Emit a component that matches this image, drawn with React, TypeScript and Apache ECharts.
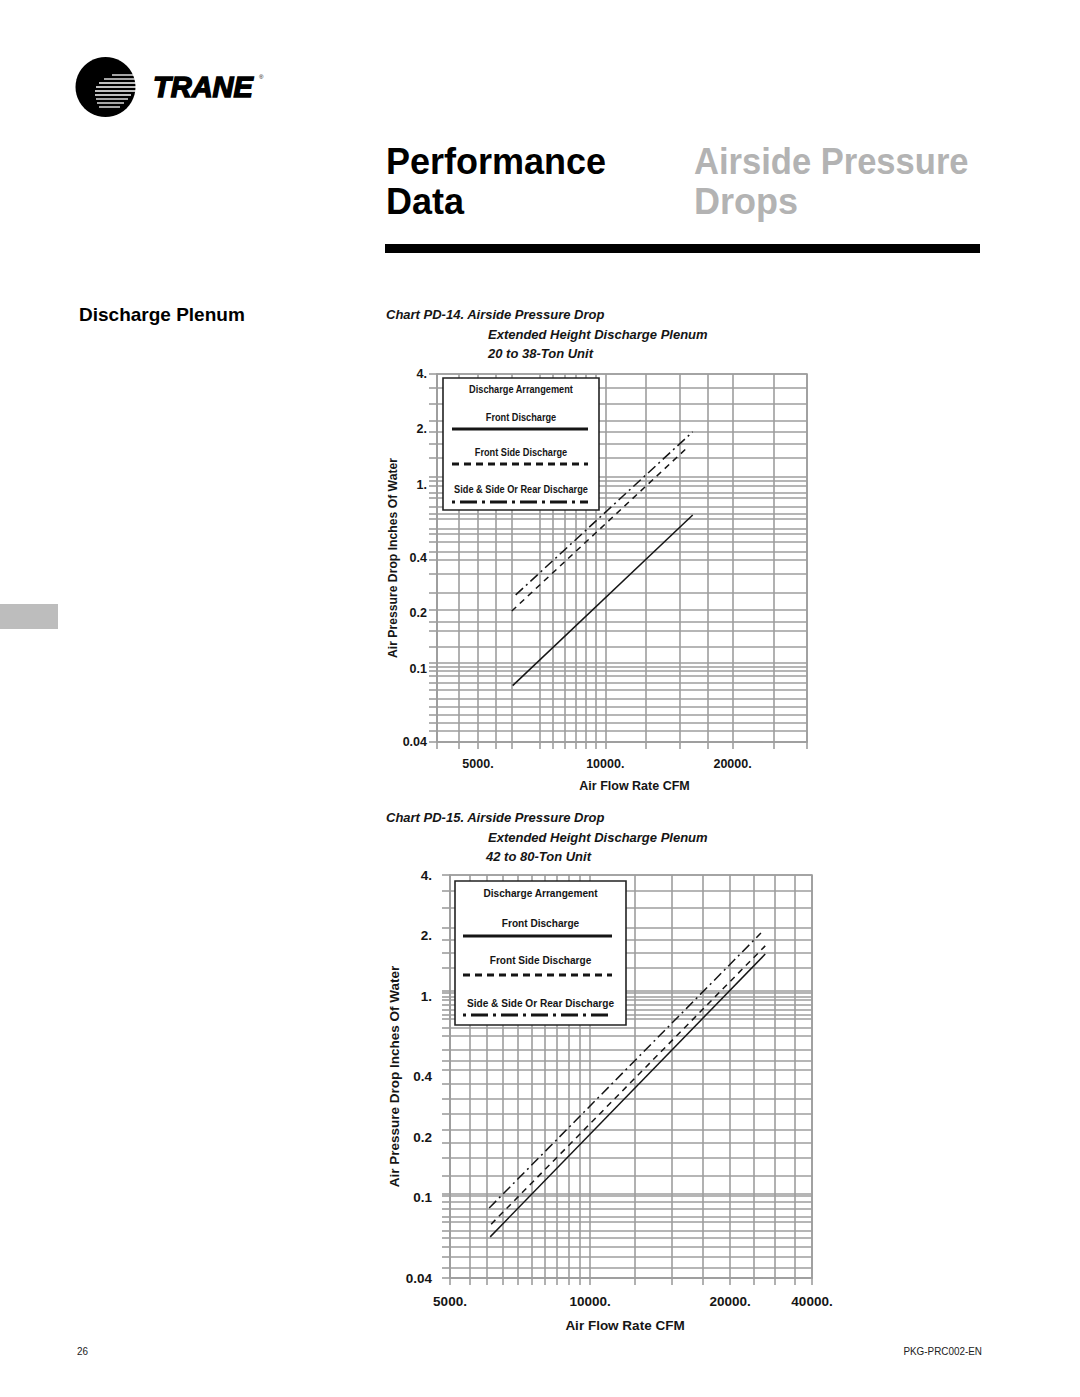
import React, { useEffect, useRef } from "react";
import * as echarts from "echarts";

// ---------------- data ----------------
const SERIES_NAMES = ["Front Discharge", "Front Side Discharge", "Side & Side Or Rear Discharge"];

// Chart PD-14 (20 to 38-Ton Unit) : end points of each line, [CFM], [in. of water]
const PD14_CFM_FRONT = [6040, 16100];
const PD14_DP_FRONT = [0.081, 0.685];
const PD14_CFM_FRONTSIDE = [6010, 15600];
const PD14_DP_FRONTSIDE = [0.206, 1.585];
const PD14_CFM_SIDE = [6140, 16100];
const PD14_DP_SIDE = [0.252, 1.94];

// Chart PD-15 (42 to 80-Ton Unit)
const PD15_CFM_FRONT = [6100, 23800];
const PD15_DP_FRONT = [0.064, 1.62];
const PD15_CFM_FRONTSIDE = [6130, 23800];
const PD15_DP_FRONTSIDE = [0.074, 1.78];
const PD15_CFM_SIDE = [6070, 23300];
const PD15_DP_SIDE = [0.089, 2.06];

// axis ranges
const PD14_X_RANGE = [4000, 30000];
const PD15_X_RANGE = [5000, 30000];
const Y_RANGE = [0.04, 4];

// tick labels
const Y_TICK_VALUES = [0.04, 0.1, 0.2, 0.4, 1, 2, 4];
const Y_TICK_LABELS = ["0.04", "0.1", "0.2", "0.4", "1.", "2.", "4."];
const PD14_X_TICK_VALUES = [5000, 10000, 20000];
const PD14_X_TICK_LABELS = ["5000.", "10000.", "20000."];
const PD15_X_TICK_VALUES = [5000, 10000, 20000, 30000];
const PD15_X_TICK_LABELS = ["5000.", "10000.", "20000.", "40000."];

// grid lines
const PD14_X_GRID = [4000, 4500, 5000, 5500, 6000, 7000, 7500, 8000, 8500, 9000, 9500, 10000, 12500, 15000, 17500, 20000, 25000, 30000];
const PD15_X_GRID = [5000, 5500, 6000, 6500, 7000, 7500, 8000, 8500, 9000, 9500, 10000, 12500, 15000, 17500, 20000, 22500, 25000, 27500, 30000];
const PD14_Y_GRID = [0.04, 0.046, 0.051, 0.056, 0.062, 0.069, 0.077, 0.084, 0.092, 0.097, 0.103, 0.108, 0.131, 0.16, 0.18, 0.21, 0.26, 0.33, 0.39, 0.43, 0.49, 0.54, 0.58, 0.65, 0.7, 0.76, 0.85, 0.91, 0.99, 1.05, 1.1, 1.4, 1.67, 1.93, 2.22, 2.75, 3.36, 4];
const PD15_Y_GRID = [0.04, 0.045, 0.051, 0.057, 0.063, 0.069, 0.076, 0.081, 0.088, 0.096, 0.102, 0.105, 0.129, 0.158, 0.187, 0.217, 0.26, 0.31, 0.37, 0.43, 0.48, 0.54, 0.64, 0.7, 0.77, 0.81, 0.86, 0.91, 0.96, 1.0, 1.04, 1.07, 1.38, 1.64, 1.9, 2.18, 2.74, 3.33, 4];

// ---------------- helpers ----------------
const FONT = "'Liberation Sans', Arial, Helvetica, sans-serif";
const GRAY = "#9e9e9e";
const INK = "#151515";
const GW = 1.6;

const zip = (xs: number[], ys: number[]) => xs.map((x, i) => [x, ys[i]]);

function labelFor(v: number, vals: number[], texts: string[]) {
  let best = 0;
  let bd = Infinity;
  vals.forEach((t, i) => {
    const d = Math.abs(Math.log(v) - Math.log(t));
    if (d < bd) {
      bd = d;
      best = i;
    }
  });
  return texts[best];
}

function xAxisDef(gridIndex: number, range: number[], grid: number[], lv: number[], lt: string[], fs: number, margin: number, nameGap: number, namePad: number[]) {
  return {
    type: "log",
    logBase: 10,
    gridIndex,
    min: range[0],
    max: range[1],
    name: "Air Flow Rate CFM",
    nameLocation: "middle",
    nameGap,
    nameTextStyle: { fontWeight: "bold", fontSize: fs, color: INK, fontFamily: FONT, padding: namePad },
    axisLine: { show: true, lineStyle: { color: GRAY, width: GW } },
    axisTick: { show: true, customValues: grid, length: 7, lineStyle: { color: GRAY, width: GW } },
    minorTick: { show: false },
    minorSplitLine: { show: false },
    splitLine: { show: true, lineStyle: { color: GRAY, width: GW } },
    axisLabel: {
      customValues: lv,
      formatter: (v: number) => labelFor(v, lv, lt),
      fontWeight: "bold",
      fontSize: fs,
      color: INK,
      fontFamily: FONT,
      margin,
    },
  };
}

function yAxisDef(gridIndex: number, grid: number[], fs: number, margin: number, nameGap: number, nameFs: number) {
  return {
    type: "log",
    logBase: 10,
    gridIndex,
    min: Y_RANGE[0],
    max: Y_RANGE[1],
    name: "Air Pressure Drop Inches Of Water",
    nameLocation: "middle",
    nameGap,
    nameTextStyle: { fontWeight: "bold", fontSize: nameFs, color: INK, fontFamily: FONT },
    axisLine: { show: true, lineStyle: { color: GRAY, width: GW } },
    axisTick: { show: true, customValues: grid, length: 8, lineStyle: { color: GRAY, width: GW } },
    minorTick: { show: false },
    minorSplitLine: { show: false },
    splitLine: { show: true, lineStyle: { color: GRAY, width: GW } },
    axisLabel: {
      customValues: Y_TICK_VALUES,
      formatter: (v: number) => labelFor(v, Y_TICK_VALUES, Y_TICK_LABELS),
      fontWeight: "bold",
      fontSize: fs,
      color: INK,
      fontFamily: FONT,
      margin,
    },
  };
}

const LINE_TYPES: any[] = ["solid", [6, 5], [10, 4, 2, 4]];

function lineSeries(i: number, axis: number, xs: number[], ys: number[]) {
  return {
    type: "line",
    name: SERIES_NAMES[i],
    xAxisIndex: axis,
    yAxisIndex: axis,
    data: zip(xs, ys),
    symbol: "none",
    silent: true,
    lineStyle: { color: INK, width: 1.5, type: LINE_TYPES[i] },
    z: 5,
  };
}

function txt(text: string, x: number, y: number, o: any = {}) {
  const { fontSize = 12, fontWeight = "normal", fontStyle = "normal", fill = INK, align = "left", scaleX = 1, z = 20, rotation = 0, stroke, lineWidth } = o;
  const style: any = {
    text,
    fontSize,
    fontWeight,
    fontStyle,
    fontFamily: FONT,
    fill,
    align,
    textAlign: align,
    verticalAlign: "middle",
    textVerticalAlign: "middle",
  };
  if (stroke) {
    style.stroke = stroke;
    style.lineWidth = lineWidth;
  }
  return { type: "text", x, y, scaleX, rotation, z, style };
}

function legendBox(b: { x: number; y: number; w: number; h: number }, rows: number[], lx: number[], fs: number, sx: number) {
  const cx = b.x + b.w / 2;
  const lineStyle = (dash: any) => ({ stroke: INK, lineWidth: 2.8, lineDash: dash });
  return [
    { type: "rect", z: 15, shape: { x: b.x, y: b.y, width: b.w, height: b.h }, style: { fill: "#fff", stroke: "#222", lineWidth: 1.6 } },
    txt("Discharge Arrangement", cx, rows[0], { fontSize: fs, fontWeight: "bold", align: "center", scaleX: sx }),
    txt(SERIES_NAMES[0], cx, rows[1], { fontSize: fs, fontWeight: "bold", align: "center", scaleX: sx }),
    { type: "line", z: 20, shape: { x1: lx[0], y1: rows[2], x2: lx[1], y2: rows[2] }, style: lineStyle(null) },
    txt(SERIES_NAMES[1], cx, rows[3], { fontSize: fs, fontWeight: "bold", align: "center", scaleX: sx }),
    { type: "line", z: 20, shape: { x1: lx[0], y1: rows[4], x2: lx[1], y2: rows[4] }, style: lineStyle([7, 5]) },
    txt(SERIES_NAMES[2], cx, rows[5], { fontSize: fs, fontWeight: "bold", align: "center", scaleX: sx }),
    { type: "line", z: 20, shape: { x1: lx[0], y1: rows[6], x2: lx[1], y2: rows[6] }, style: lineStyle([3, 5, 17, 5]) },
  ];
}

function logo() {
  const cx = 105.5, cy = 87, r = 30;
  const stripes = [
    [75, 112, 0], [79, 104, 0], [83, 99, 0], [87, 96, 0], [91, 95, 0],
    [95, 95, 131], [99, 96, 128], [103, 97, 124], [107, 99, 120],
  ];
  const els: any[] = [{ type: "circle", z: 20, shape: { cx, cy, r }, style: { fill: "#000" } }];
  stripes.forEach(([y, x1, x2]) => {
    const edge = cx + Math.sqrt(Math.max(0, r * r - (y - cy) * (y - cy))) + 1;
    els.push({ type: "line", z: 21, shape: { x1, y1: y, x2: x2 || edge, y2: y }, style: { stroke: "#fff", lineWidth: 1.3 } });
  });
  els.push(txt("TRANE", 153, 87, { fontSize: 29, fontWeight: 900, fontStyle: "italic", fill: "#000", stroke: "#000", lineWidth: 1.4 }));
  els.push(txt("®", 259, 77, { fontSize: 6, fill: "#000" }));
  return els;
}

export default function App() {
  const ref = useRef<HTMLDivElement>(null);
  useEffect(() => {
    if (!ref.current) return;
    const chart = echarts.init(ref.current, null, { renderer: "svg" });
    const option: any = {
      animation: false,
      backgroundColor: "#fff",
      textStyle: { fontFamily: FONT },
      grid: [
        { left: 437, top: 374, width: 370, height: 368, show: true, borderColor: GRAY, borderWidth: GW, backgroundColor: "transparent" },
        { left: 450, top: 875, width: 362, height: 403, show: true, borderColor: GRAY, borderWidth: GW, backgroundColor: "transparent" },
      ],
      xAxis: [
        xAxisDef(0, PD14_X_RANGE, PD14_X_GRID, PD14_X_TICK_VALUES, PD14_X_TICK_LABELS, 12.5, 15, 37, [0, 0, 0, 25]),
        xAxisDef(1, PD15_X_RANGE, PD15_X_GRID, PD15_X_TICK_VALUES, PD15_X_TICK_LABELS, 13.5, 16, 40, [0, 12, 0, 0]),
      ],
      yAxis: [yAxisDef(0, PD14_Y_GRID, 12.5, 10, 36, 12.2), yAxisDef(1, PD15_Y_GRID, 13.5, 18, 46, 13.5)],
      series: [
        lineSeries(0, 0, PD14_CFM_FRONT, PD14_DP_FRONT),
        lineSeries(1, 0, PD14_CFM_FRONTSIDE, PD14_DP_FRONTSIDE),
        lineSeries(2, 0, PD14_CFM_SIDE, PD14_DP_SIDE),
        lineSeries(0, 1, PD15_CFM_FRONT, PD15_DP_FRONT),
        lineSeries(1, 1, PD15_CFM_FRONTSIDE, PD15_DP_FRONTSIDE),
        lineSeries(2, 1, PD15_CFM_SIDE, PD15_DP_SIDE),
      ],
      graphic: {
        elements: [
          ...logo(),
          txt("Performance", 386, 161, { fontSize: 36, fontWeight: "bold", fill: "#000" }),
          txt("Data", 386, 201, { fontSize: 36, fontWeight: "bold", fill: "#000" }),
          txt("Airside Pressure", 694, 161, { fontSize: 36, fontWeight: "bold", fill: "#b3b3b3", scaleX: 0.96 }),
          txt("Drops", 694, 201, { fontSize: 36, fontWeight: "bold", fill: "#b3b3b3" }),
          { type: "rect", z: 20, shape: { x: 385, y: 244, width: 595, height: 9 }, style: { fill: "#000" } },
          txt("Discharge Plenum", 79, 314, { fontSize: 19, fontWeight: "bold", fill: "#000" }),
          { type: "rect", z: 20, shape: { x: 0, y: 604, width: 58, height: 25 }, style: { fill: "#bdbdbd" } },
          txt("Chart PD-14. Airside Pressure Drop", 386, 314, { fontSize: 13, fontWeight: "bold", fontStyle: "italic" }),
          txt("Extended Height Discharge Plenum", 488, 334, { fontSize: 13, fontWeight: "bold", fontStyle: "italic" }),
          txt("20 to 38-Ton Unit", 488, 353, { fontSize: 13, fontWeight: "bold", fontStyle: "italic" }),
          txt("Chart PD-15. Airside Pressure Drop", 386, 817, { fontSize: 13, fontWeight: "bold", fontStyle: "italic" }),
          txt("Extended Height Discharge Plenum", 488, 837, { fontSize: 13, fontWeight: "bold", fontStyle: "italic" }),
          txt("42 to 80-Ton Unit", 486, 856, { fontSize: 13, fontWeight: "bold", fontStyle: "italic" }),
          ...legendBox({ x: 443, y: 378, w: 156, h: 132 }, [389, 417, 429, 452, 464, 489, 502], [452, 588], 10, 0.92),
          ...legendBox({ x: 455, y: 881, w: 171, h: 144 }, [893, 923, 936, 960, 975, 1003, 1015], [463, 612], 11, 0.92),
          txt("26", 77, 1351, { fontSize: 11, fill: "#222", scaleX: 0.9 }),
          txt("PKG-PRC002-EN", 982, 1351, { fontSize: 11, fill: "#222", align: "right", scaleX: 0.9 }),
        ],
      },
    };
    chart.setOption(option);
    return () => chart.dispose();
  }, []);
  return <div ref={ref} style={{ position: "absolute", left: 0, top: 0, width: 1080, height: 1397, background: "#fff" }} />;
}
